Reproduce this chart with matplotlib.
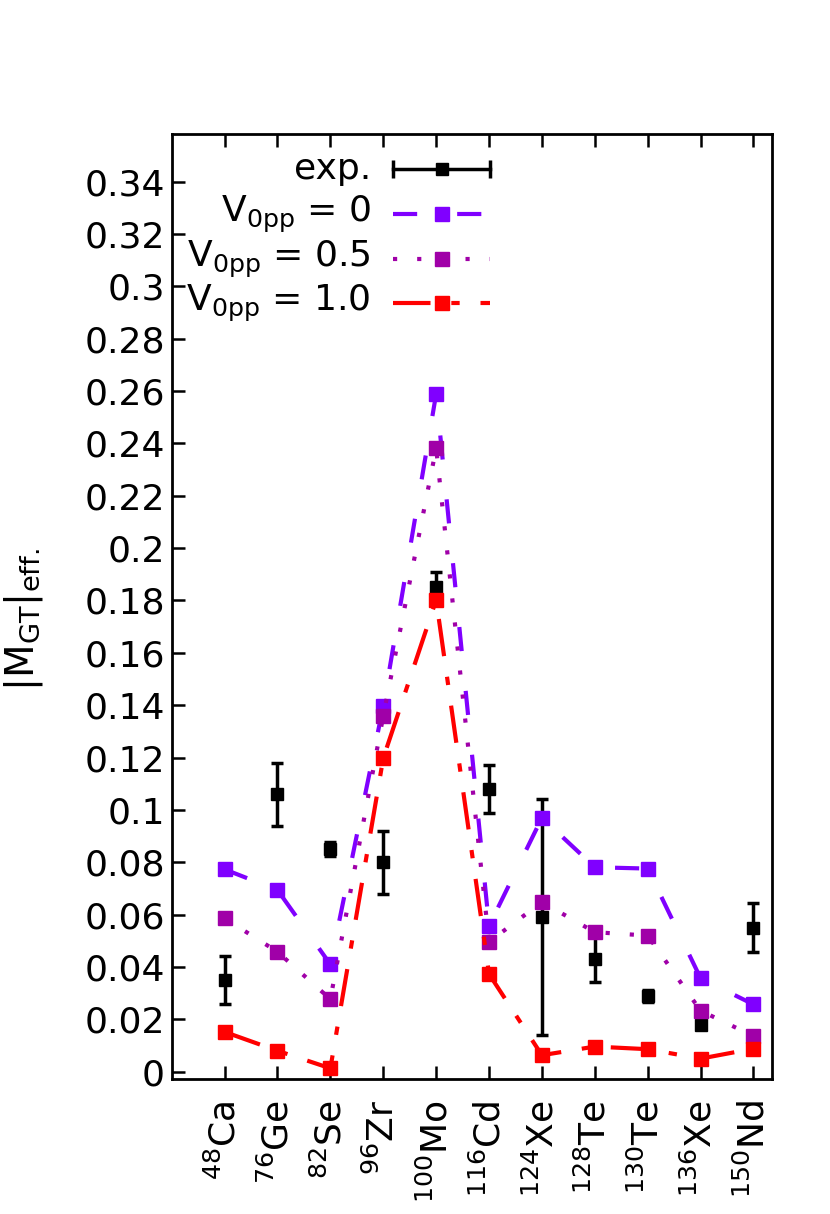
import matplotlib
matplotlib.use("Agg")
import matplotlib.pyplot as plt

nuclei = [r"$^{48}\mathrm{Ca}$", r"$^{76}\mathrm{Ge}$", r"$^{82}\mathrm{Se}$", r"$^{96}\mathrm{Zr}$",
          r"$^{100}\mathrm{Mo}$", r"$^{116}\mathrm{Cd}$", r"$^{124}\mathrm{Xe}$", r"$^{128}\mathrm{Te}$",
          r"$^{130}\mathrm{Te}$", r"$^{136}\mathrm{Xe}$", r"$^{150}\mathrm{Nd}$"]
xpos = list(range(1, 12))

exp_val = [0.035, 0.106, 0.085, 0.080, 0.185, 0.108, 0.059, 0.043, 0.029, 0.018, 0.055]
exp_err = [0.0092, 0.012, 0.0027, 0.012, 0.006, 0.009, 0.045, 0.0088, 0.0024, 0.0006, 0.0093]
v0pp_0 = [0.0773, 0.0694, 0.0410, 0.1397, 0.2589, 0.0557, 0.0970, 0.0781, 0.0776, 0.0357, 0.0257]
v0pp_05 = [0.0586, 0.0458, 0.0277, 0.1359, 0.2382, 0.0496, 0.0648, 0.0533, 0.0520, 0.0233, 0.0136]
v0pp_10 = [0.0152, 0.0080, 0.0013, 0.1198, 0.1802, 0.0373, 0.0063, 0.0096, 0.0086, 0.0050, 0.0088]

c_v0 = "#8000ff"
c_v05 = "#a000a8"
c_v1 = "#ff0000"
# dash patterns in units of line width (gnuplot-like)
dash_v0 = (5.8, 9.6)
dash_v05 = (1, 4.8)
dash_v1 = (9, 5, 2, 5)

plt.rcParams["font.family"] = "DejaVu Sans"
plt.rcParams["mathtext.fontset"] = "dejavusans"

fig = plt.figure(figsize=(8.3, 12.14), dpi=100)
ax = fig.add_axes([171.7 / 830, 1 - 1079.3 / 1214, 600.3 / 830, 945.3 / 1214])

# experimental points
ax.errorbar(xpos, exp_val, yerr=exp_err, fmt="s", color="black", ms=9, elinewidth=2.5,
            capsize=4.5, capthick=2.5, zorder=3)

# calculations
ax.plot(xpos, v0pp_0, color=c_v0, lw=3, dashes=dash_v0, marker="s", ms=9.5, zorder=4)
ax.plot(xpos, v0pp_05, color=c_v05, lw=3, dashes=dash_v05, marker="s", ms=9.5, zorder=5)
ax.plot(xpos, v0pp_10, color=c_v1, lw=3, dashes=dash_v1, marker="s", ms=9.5, zorder=6)

ax.set_xlim(0, 11.35)
ax.set_ylim(-0.0029, 0.3582)

yt = [i * 0.02 for i in range(18)]
ax.set_yticks(yt)
ax.set_yticklabels(["%g" % round(v, 2) for v in yt])
ax.set_xticks(xpos)
ax.set_xticklabels(nuclei, rotation=90, va="top", ha="center")

ax.tick_params(axis="both", direction="in", length=9.5, width=1.8, labelsize=26)
ax.tick_params(axis="y", pad=5)
ax.tick_params(axis="x", pad=15, top=True)
for s in ax.spines.values():
    s.set_linewidth(2)

ax.set_ylabel(r"$|\mathrm{M}_{\mathrm{GT}}|_{\mathrm{eff.}}$", fontsize=28)
ax.yaxis.set_label_coords(-0.211, 0.486)

# gnuplot style key: right aligned text, sample on the right
tr = ax.transAxes
x_txt = 0.332
x0, x1, xm = 0.369, 0.530, 0.4495
rows = [0.9627, 0.915, 0.8675, 0.821]
labels = ["exp.", r"V$_{\mathrm{0pp}}$ = 0", r"V$_{\mathrm{0pp}}$ = 0.5", r"V$_{\mathrm{0pp}}$ = 1.0"]
for yy, lab in zip(rows, labels):
    ax.text(x_txt, yy, lab, transform=tr, ha="right", va="center", fontsize=26)

ax.plot([x0, x1], [rows[0], rows[0]], transform=tr, color="black", lw=2.5, clip_on=False)
ax.plot([x0, x1], [rows[0], rows[0]], transform=tr, color="black", ls="none", marker="|",
        ms=13, mew=2.5, clip_on=False)
ax.plot([xm], [rows[0]], transform=tr, color="black", marker="s", ms=9, clip_on=False)

for yy, col, dsh in zip(rows[1:], [c_v0, c_v05, c_v1], [dash_v0, dash_v05, dash_v1]):
    ax.plot([x0, x1], [yy, yy], transform=tr, color=col, lw=3, dashes=dsh, clip_on=False)
    ax.plot([xm], [yy], transform=tr, color=col, marker="s", ms=9.5, clip_on=False)

fig.savefig("out.png", dpi=100)
